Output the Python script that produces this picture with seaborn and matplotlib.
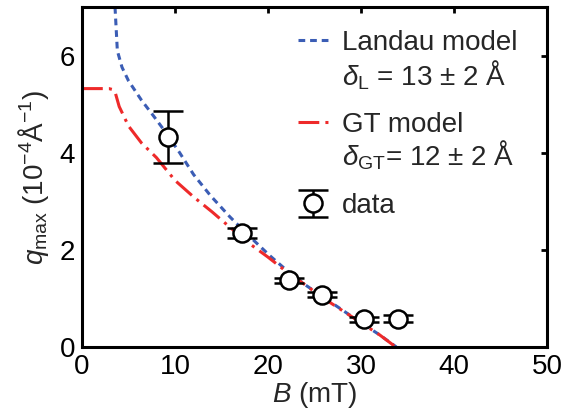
import numpy as np
import pandas as pd
import matplotlib
matplotlib.use("Agg")
import matplotlib.pyplot as plt
from matplotlib.lines import Line2D
import seaborn as sns

# ---- data ----
landau_B = [3.55, 3.8, 4.3, 5.0, 6.4, 7.6, 9.0, 10.5, 12.0, 13.8, 15.9, 18.0,
            20.2, 22.0, 24.0, 26.0, 28.0, 30.0, 32.0, 33.8]
landau_q = [7.0, 6.1, 5.76, 5.48, 5.08, 4.78, 4.42, 4.0, 3.55, 3.12, 2.68, 2.28,
            1.88, 1.58, 1.28, 1.02, 0.76, 0.5, 0.25, 0.0]

gt_B = [0.0, 2.9, 3.3, 3.6, 4.0, 5.0, 6.4, 8.0, 10.0, 12.0, 14.0, 16.0, 18.0,
        20.0, 22.0, 24.0, 26.0, 28.0, 30.0, 32.0, 33.6]
gt_q = [5.32, 5.32, 5.30, 5.22, 4.95, 4.55, 4.2, 3.9, 3.43, 3.09, 2.78, 2.45,
        2.13, 1.85, 1.55, 1.28, 1.0, 0.75, 0.5, 0.25, 0.02]

data_B = [9.2, 17.2, 22.3, 25.8, 30.3, 34.0]
data_q = [4.32, 2.35, 1.37, 1.08, 0.57, 0.58]
data_err = [0.53, 0.10, 0.06, 0.055, 0.05, 0.07]

xticks = [0, 10, 20, 30, 40, 50]
yticks = [0, 2, 4, 6]

BLUE = "#3b5db5"
RED = "#ee2a2a"
LW = 2.2
LS_BLUE = (0, (2.2, 1.6))
LS_RED = (0, (6.8, 2.0, 1.0, 2.0))

sns.set_theme(style="white")
plt.rcParams["font.family"] = ["Liberation Sans", "DejaVu Sans"]
plt.rcParams["mathtext.fontset"] = "custom"
plt.rcParams["mathtext.rm"] = "Liberation Sans"
plt.rcParams["mathtext.it"] = "Liberation Sans:italic"
plt.rcParams["mathtext.bf"] = "Liberation Sans:bold"
plt.rcParams["lines.dash_capstyle"] = "butt"

fig = plt.figure(figsize=(5.72, 4.2), dpi=100)
ax = fig.add_axes([82 / 572, 73 / 420, 465 / 572, 340 / 420])

df_l = pd.DataFrame({"B": landau_B, "q": landau_q})
df_g = pd.DataFrame({"B": gt_B, "q": gt_q})
sns.lineplot(data=df_l, x="B", y="q", ax=ax, color=BLUE, sort=False)
ln_l = ax.lines[-1]
sns.lineplot(data=df_g, x="B", y="q", ax=ax, color=RED, sort=False)
ln_g = ax.lines[-1]
for ln, ls in ((ln_l, LS_BLUE), (ln_g, LS_RED)):
    ln.set_linewidth(LW)
    ln.set_linestyle(ls)

ax.errorbar(data_B, data_q, yerr=data_err, fmt="o", ms=13, mfc="white",
            mec="black", mew=1.8, ecolor="black", elinewidth=1.8,
            capsize=10.5, capthick=1.8, zorder=5)

ax.set_xlim(0, 50)
ax.set_ylim(0, 7)
ax.set_xticks(xticks)
ax.set_yticks(yticks)
ax.tick_params(direction="in", length=4.5, width=2, top=True, right=True,
               labelsize=20, pad=5, colors="black")
for s in ax.spines.values():
    s.set_linewidth(2.2)
    s.set_color("black")

ax.set_xlabel(r"$B$ (mT)", fontsize=20, labelpad=0)
ax.set_ylabel(r"$q_\mathrm{max}$ (10$^{-4}$Å$^{-1}$)", fontsize=20, labelpad=6)

# legend
h_l = Line2D([], [], color=BLUE, lw=LW, linestyle=LS_BLUE)
h_g = Line2D([], [], color=RED, lw=LW, linestyle=LS_RED)
h_d = ax.errorbar([np.nan], [np.nan], yerr=[1], fmt="o", ms=13, mfc="white",
                  mec="black", mew=1.8, ecolor="black", elinewidth=1.8,
                  capsize=10.5, capthick=1.8)
leg = ax.legend([h_l, h_g, h_d], ["Landau model", "GT model", "data"],
                loc="upper left", bbox_to_anchor=(0.44, 0.965),
                frameon=False, fontsize=20, handlelength=1.1,
                handletextpad=0.5, labelspacing=2.0, borderaxespad=0)

tx = (342 - 82) / 465
ax.text(tx, (347 - 86) / 340, r"$\delta_\mathrm{L}$ = 13 ± 2 Å",
        transform=ax.transAxes, fontsize=20, va="baseline", ha="left")
ax.text(tx, (347 - 166) / 340, r"$\delta_\mathrm{GT}$= 12 ± 2 Å",
        transform=ax.transAxes, fontsize=20, va="baseline", ha="left")

fig.savefig("out.png", dpi=100)
